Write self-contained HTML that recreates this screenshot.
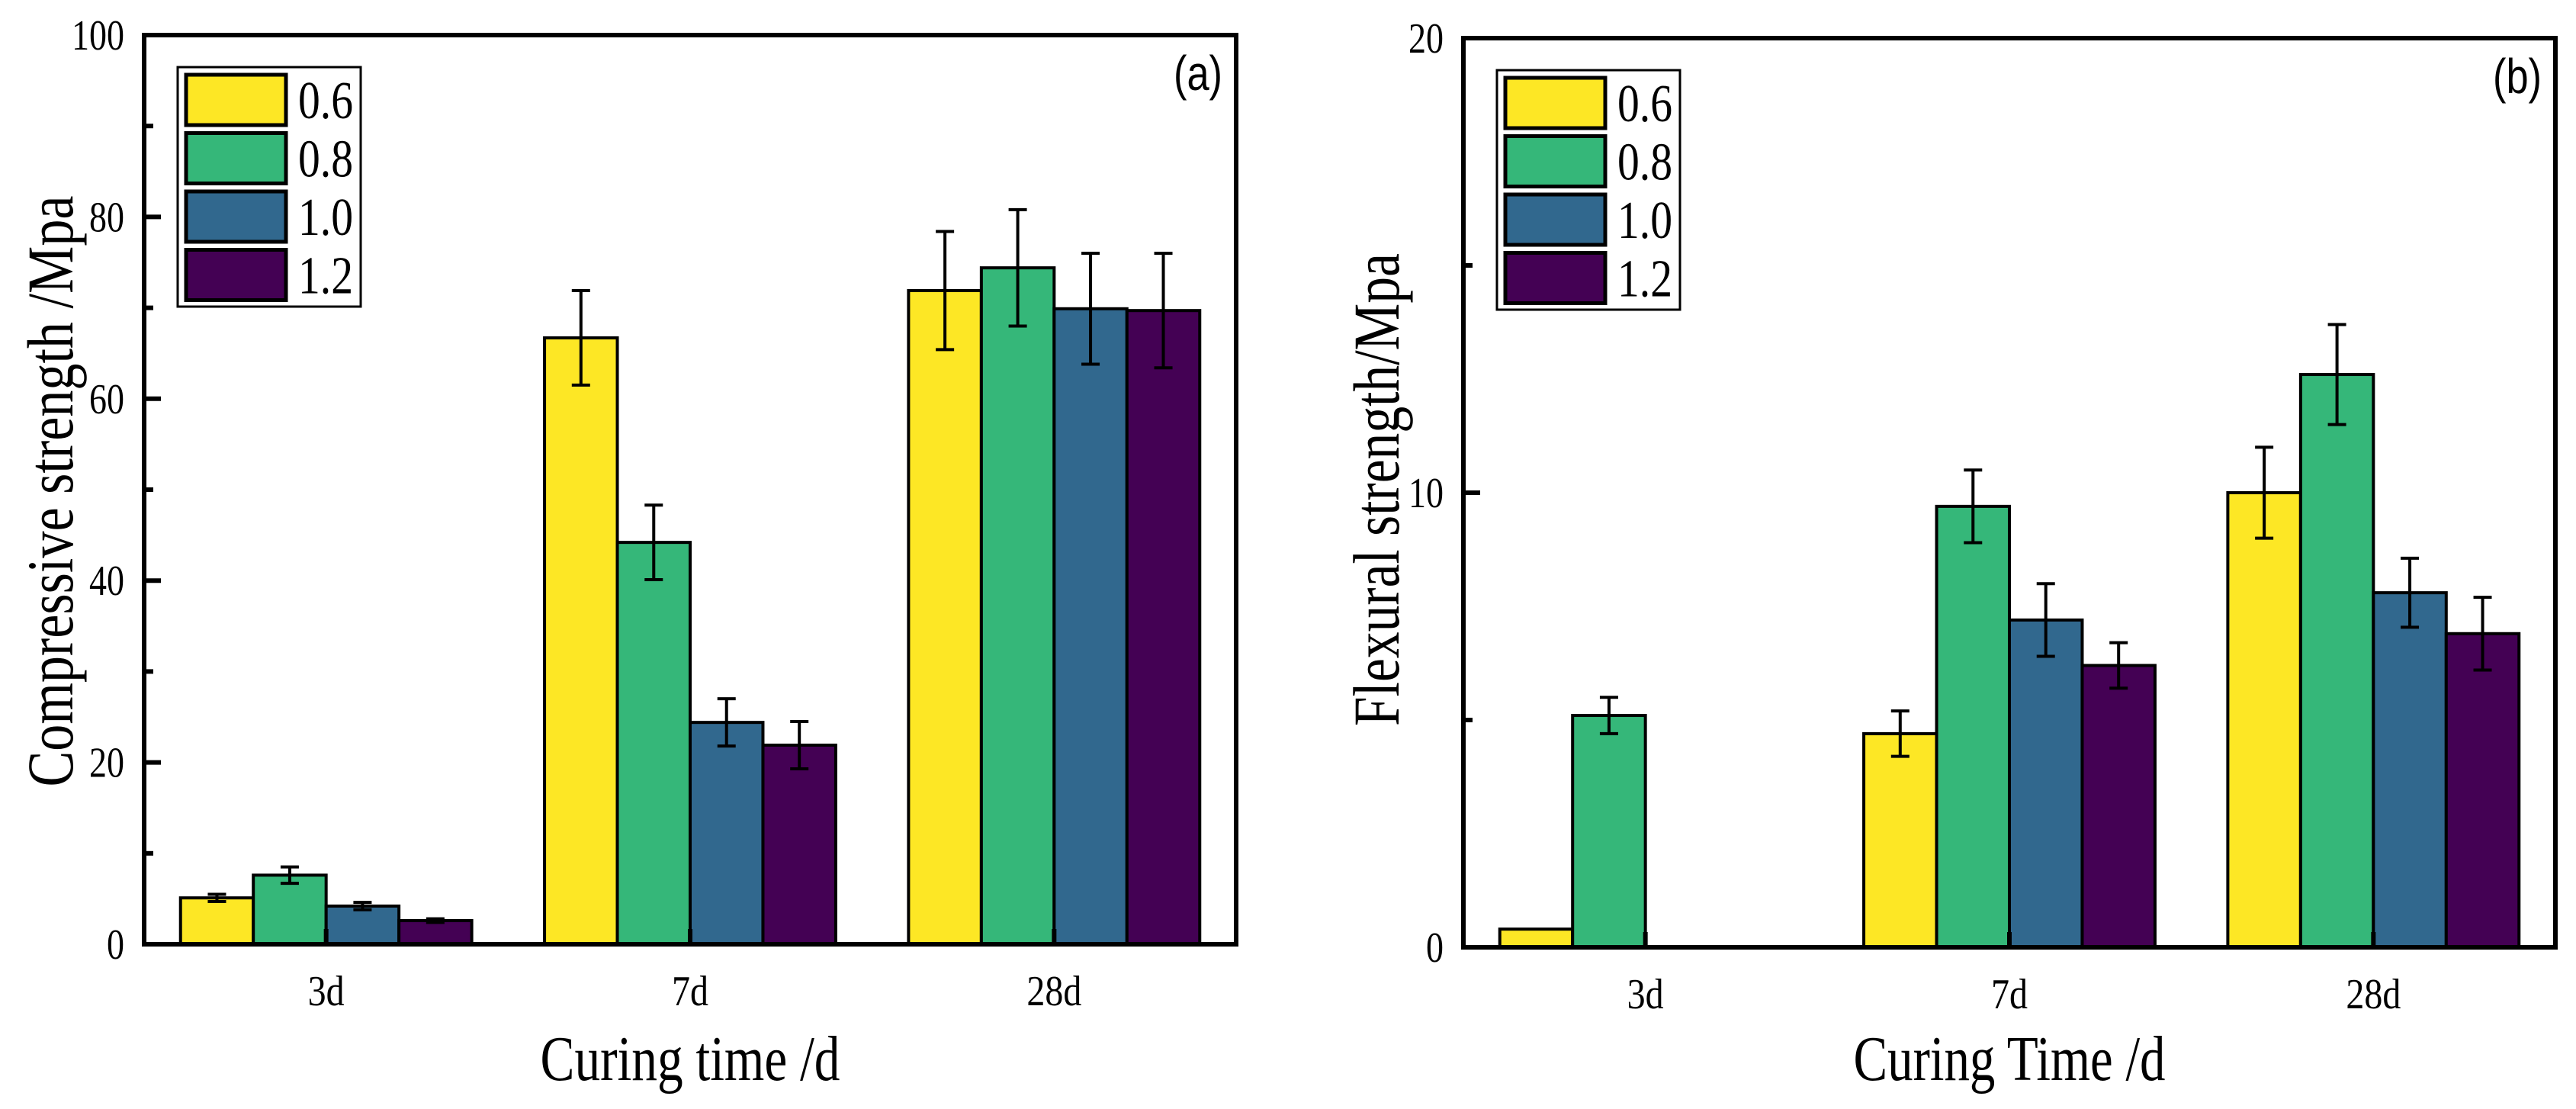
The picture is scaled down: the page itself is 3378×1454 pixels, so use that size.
<!DOCTYPE html>
<html><head><meta charset="utf-8"><style>
html,body{margin:0;padding:0;background:#fff;}
svg text{font-family:"Liberation Serif",serif;fill:#000;}
</style></head><body>
<svg id="fig" xmlns="http://www.w3.org/2000/svg" width="3378" height="1449" viewBox="0 0 3378 1449"></svg>
<script>
const categories = ["3d","7d","28d"];
const seriesNames = ["0.6","0.8","1.0","1.2"];
const colors = ["#fde725","#35b779","#31688e","#440154"];
// Panel (a) compressive strength
const compValues = [[5.1,66.7,71.9],[7.6,44.2,74.4],[4.2,24.4,69.9],[2.6,21.9,69.7]];
const compErrors = [[0.4,5.2,6.5],[0.9,4.1,6.4],[0.4,2.6,6.1],[0.2,2.6,6.3]];
const compTicks = [0,20,40,60,80,100];
const compMinor = [10,30,50,70,90];
// Panel (b) flexural strength
const flexValues = [[0.4,4.7,10.0],[5.1,9.7,12.6],[0,7.2,7.8],[0,6.2,6.9]];
const flexErrors = [[0,0.5,1.0],[0.4,0.8,1.1],[0,0.8,0.76],[0,0.5,0.8]];
const flexTicks = [0,10,20];
const flexMinor = [5,15];

const NS="http://www.w3.org/2000/svg";
const svg=document.getElementById('fig');
function mk(tag,attrs,parent){const e=document.createElementNS(NS,tag);for(const k in attrs)e.setAttribute(k,attrs[k]);(parent||svg).appendChild(e);return e;}

function panel(cfg){
  const g=mk('g',{});
  
  
  const L=cfg.left,R=cfg.right,T=cfg.top,B=cfg.bottom;
  const y=v=>B-(v-cfg.ymin)/(cfg.ymax-cfg.ymin)*(B-T);
  const band=(R-L)/categories.length;
  const bw=band*0.2;
  const xc=i=>L+band*(i+0.5);
  for(let s=0;s<seriesNames.length;s++){
    for(let c=0;c<categories.length;c++){
      const v=cfg.values[s][c];
      if(v<=0) continue;
      const x0=xc(c)-2*bw+s*bw;
      const r=mk('rect',{x:x0,y:y(v),width:bw,height:B-y(v),fill:colors[s],stroke:'#000','stroke-width':4},g);
      
      
      const e=cfg.errors[s][c];
      if(e>0){
        const cx=x0+bw/2;
        const eb=mk('path',{d:`M${cx},${y(v+e)}V${y(v-e)}M${cx-12},${y(v+e)}H${cx+12}M${cx-12},${y(v-e)}H${cx+12}`,stroke:'#000','stroke-width':4,fill:'none'},g);
        
        
      }
    }
  }
  const fr=mk('rect',{x:L,y:T,width:R-L,height:B-T,fill:'none',stroke:'#000','stroke-width':6},g);
  
  
  cfg.ticks.forEach(t=>{
    mk('line',{x1:L,x2:L+22,y1:y(t),y2:y(t),stroke:'#000','stroke-width':6},g);
    const s=String(t);
    const tx=mk('text',{x:L-26,y:y(t)+19,'font-size':56,'text-anchor':'end',textLength:s.length*23,lengthAdjust:'spacingAndGlyphs'},g);
    tx.textContent=s;
    
    
  });
  cfg.minor.forEach(t=>{mk('line',{x1:L,x2:L+12,y1:y(t),y2:y(t),stroke:'#000','stroke-width':6},g);});
  categories.forEach((c,i)=>{
    mk('line',{x1:xc(i),x2:xc(i),y1:B,y2:B-20,stroke:'#000','stroke-width':6},g);
    const tx=mk('text',{x:xc(i),y:B+80,'font-size':56,'text-anchor':'middle',textLength:c.length*24,lengthAdjust:'spacingAndGlyphs'},g);
    tx.textContent=c;
    
    
  });
  const xt=mk('text',{x:(L+R)/2,y:1416,'font-size':84,'text-anchor':'middle',textLength:cfg.xTitleLen,lengthAdjust:'spacingAndGlyphs'},g);
  xt.textContent=cfg.xTitle;
  
  
  const yt=mk('text',{x:0,y:0,'font-size':86,'text-anchor':'middle',textLength:cfg.yTitleLen,lengthAdjust:'spacingAndGlyphs',transform:`translate(${cfg.yTitleX},${cfg.yTitleY}) rotate(-90)`},g);
  yt.textContent=cfg.yTitle;
  
  
  const pl=mk('text',{x:R-18,y:T+72,'font-size':64,'text-anchor':'end',style:'font-family:"Liberation Sans",sans-serif',textLength:64,lengthAdjust:'spacingAndGlyphs'},g);
  pl.textContent=cfg.label;
  
  
  const lg=mk('g',{},g);
  
  
  const lx=L+44,ly=T+42;
  mk('rect',{x:lx,y:ly,width:240,height:314,fill:'#fff',stroke:'#000','stroke-width':3},lg);
  seriesNames.forEach((n,i)=>{
    const ent=mk('g',{},lg);
    
    
    const sy=ly+10+i*76.5;
    mk('rect',{x:lx+11,y:sy,width:131,height:66,fill:colors[i],stroke:'#000','stroke-width':5},ent);
    const t=mk('text',{x:lx+158,y:sy+57,'font-size':70,textLength:72,lengthAdjust:'spacingAndGlyphs'},ent);
    t.textContent=n;
  });
}
panel({id:'compressive',left:189,right:1621,top:46,bottom:1238,ymin:0,ymax:100,values:compValues,errors:compErrors,ticks:compTicks,minor:compMinor,
  xTitle:'Curing time /d',xTitleLen:393,yTitle:'Compressive strength /Mpa',yTitleLen:775,yTitleX:95,yTitleY:644,label:'(a)'});
panel({id:'flexural',left:1919,right:3351,top:50,bottom:1242,ymin:0,ymax:20,values:flexValues,errors:flexErrors,ticks:flexTicks,minor:flexMinor,
  xTitle:'Curing Time /d',xTitleLen:409,yTitle:'Flexural strength/Mpa',yTitleLen:620,yTitleX:1834,yTitleY:642,label:'(b)'});
</script>
</body></html>
